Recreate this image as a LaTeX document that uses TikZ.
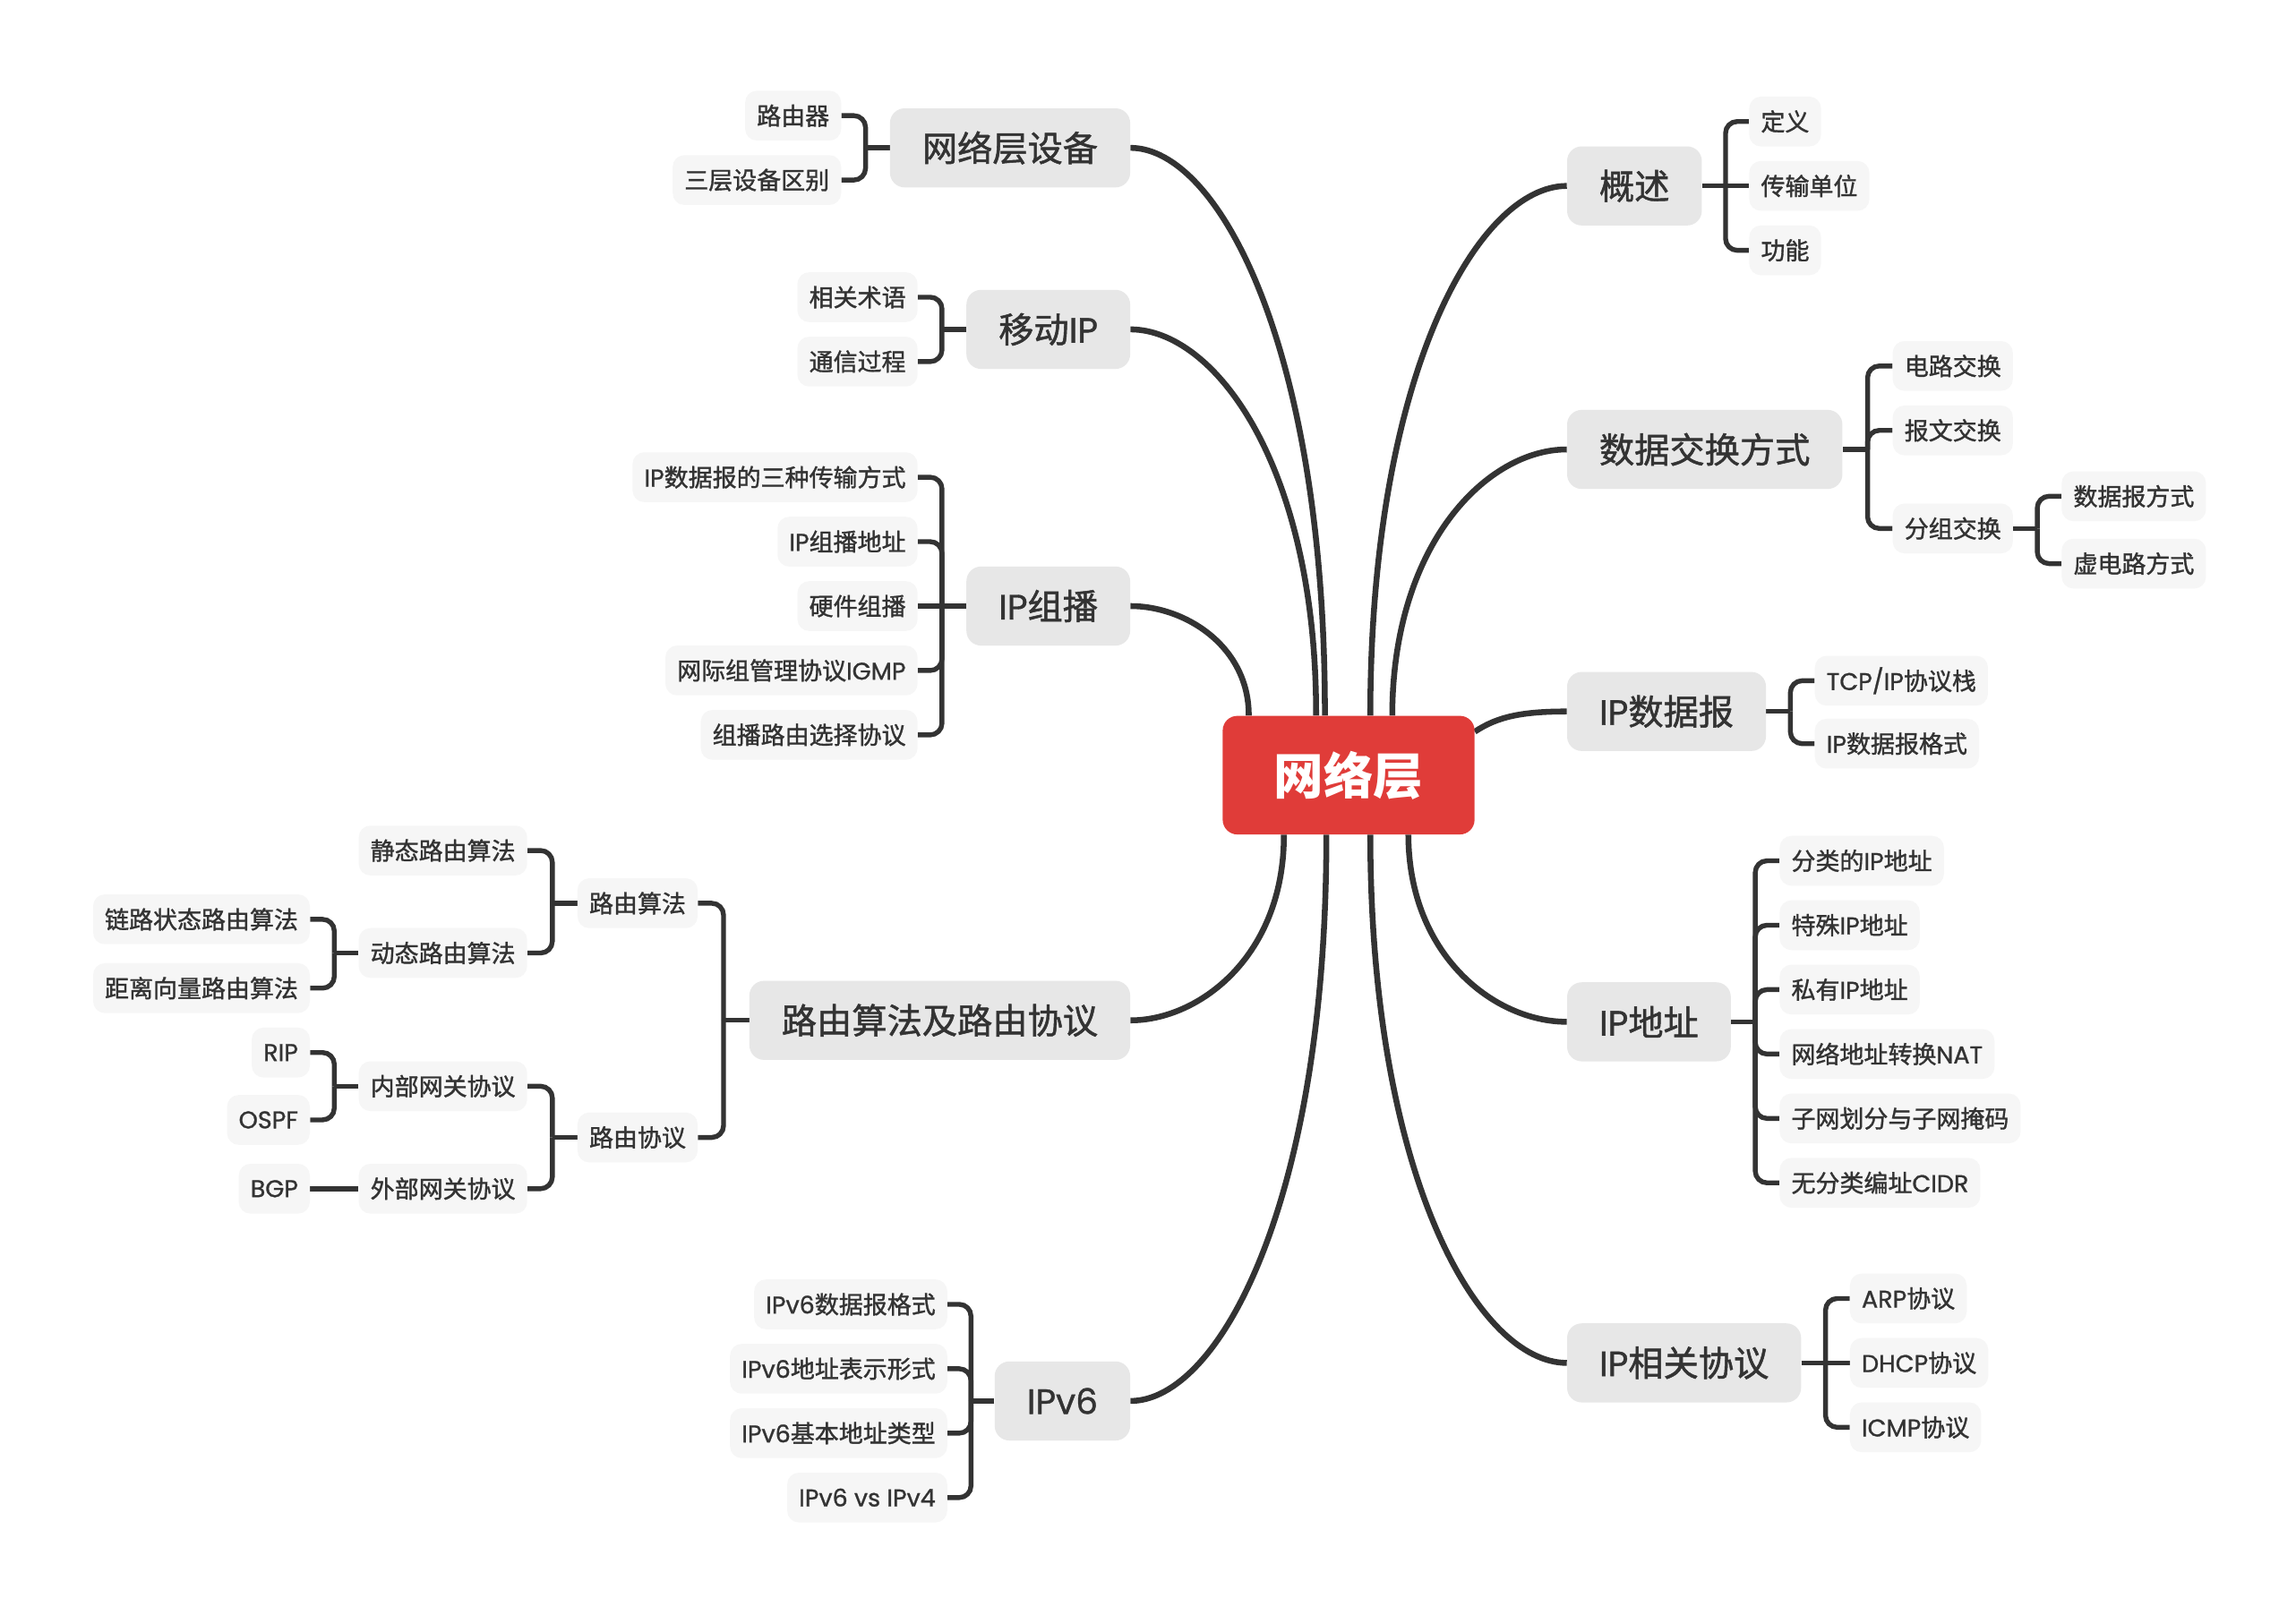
\documentclass[tikz,border=0pt]{standalone}
\usepackage{fontspec}
\setmainfont{Noto Sans CJK SC}
\newfontfamily\medfont{Noto Sans CJK SC}[FakeBold=1.3]
\newfontfamily\latf{Poppins}[FakeBold=1.0]
\newcommand\lat[1]{{\latf #1}}
\usetikzlibrary{calc,backgrounds}
\definecolor{rootc}{HTML}{E03C39}
\definecolor{topc}{HTML}{E7E7E7}
\definecolor{leafc}{HTML}{F6F6F6}
\definecolor{txt}{HTML}{333333}
\definecolor{linec}{HTML}{333333}
\begin{document}
\begin{tikzpicture}[x=1pt,y=-1pt,
  leaf/.style={fill=leafc, rounded corners=8pt, minimum height=34pt, inner xsep=8pt, inner ysep=0pt, text=txt, font=\medfont\fontsize{16.5}{20}\selectfont},
  topic/.style={fill=topc, rounded corners=10pt, minimum height=54pt, inner xsep=22pt, inner ysep=0pt, text=txt, font=\medfont\fontsize{24}{28}\selectfont},
  rootn/.style={fill=rootc, rounded corners=10pt, minimum height=81pt, minimum width=172pt, text=white, font=\fontsize{34}{40}\selectfont\bfseries},
  conn/.style={draw=linec, line width=4pt},
  br/.style={draw=linec, line width=3.3pt, rounded corners=8pt},
  brs/.style={draw=linec, line width=3.3pt}]
\useasboundingbox (0,0) rectangle (1568,1103.2);

\node[rootn] (root) at (921,529.5) {网络层};

% ---------- left main topics
\node[topic,anchor=east] (t1) at (772,101) {网络层设备};
\node[topic,anchor=east] (t2) at (772,225) {移动\lat{IP}};
\node[topic,anchor=east] (t3) at (772,414) {\lat{IP}组播};
\node[topic,anchor=east] (t4) at (772,697) {路由算法及路由协议};
\node[topic,anchor=east] (t5) at (772,957) {\lat{IPv6}};
% ---------- right main topics
\node[topic,anchor=west] (t6) at (1070,127) {概述};
\node[topic,anchor=west] (t7) at (1070,307) {数据交换方式};
\node[topic,anchor=west] (t8) at (1070,486) {\lat{IP}数据报};
\node[topic,anchor=west] (t9) at (1070,698) {\lat{IP}地址};
\node[topic,anchor=west] (t10) at (1070,931) {\lat{IP}相关协议};

% ---------- t1 children
\path (t1.west) ++(-33,0) coordinate (c1);
\node[leaf,anchor=east] (a1) at (c1 |- 0,79) {路由器};
\node[leaf,anchor=east] (a2) at (c1 |- 0,123) {三层设备区别};
% ---------- t2 children
\path (t2.west) ++(-33,0) coordinate (c2);
\node[leaf,anchor=east] (b1) at (c2 |- 0,203) {相关术语};
\node[leaf,anchor=east] (b2) at (c2 |- 0,247) {通信过程};
% ---------- t3 children
\path (t3.west) ++(-33,0) coordinate (c3);
\node[leaf,anchor=east] (d1) at (c3 |- 0,326) {\lat{IP}数据报的三种传输方式};
\node[leaf,anchor=east] (d2) at (c3 |- 0,370) {\lat{IP}组播地址};
\node[leaf,anchor=east] (d3) at (c3 |- 0,414) {硬件组播};
\node[leaf,anchor=east] (d4) at (c3 |- 0,458) {网际组管理协议\lat{IGMP}};
\node[leaf,anchor=east] (d5) at (c3 |- 0,502) {组播路由选择协议};
% ---------- t4 children
\path (t4.west) ++(-35,0) coordinate (c4);
\node[leaf,anchor=east] (e1) at (c4 |- 0,617) {路由算法};
\node[leaf,anchor=east] (e2) at (c4 |- 0,777) {路由协议};
\path (e1.west) ++(-34,0) coordinate (c41);
\node[leaf,anchor=east] (f1) at (c41 |- 0,581) {静态路由算法};
\node[leaf,anchor=east] (f2) at (c41 |- 0,651) {动态路由算法};
\path (f2.west) ++(-33,0) coordinate (c42);
\node[leaf,anchor=east] (g1) at (c42 |- 0,628) {链路状态路由算法};
\node[leaf,anchor=east] (g2) at (c42 |- 0,675) {距离向量路由算法};
\path (e2.west) ++(-34,0) coordinate (c43);
\node[leaf,anchor=east] (h1) at (c43 |- 0,742) {内部网关协议};
\node[leaf,anchor=east] (h2) at (c43 |- 0,812) {外部网关协议};
\path (h1.west) ++(-33,0) coordinate (c44);
\node[leaf,anchor=east] (i1) at (c44 |- 0,719) {\lat{RIP}};
\node[leaf,anchor=east] (i2) at (c44 |- 0,765) {\lat{OSPF}};
\path (h2.west) ++(-33,0) coordinate (c45);
\node[leaf,anchor=east] (i3) at (c45 |- 0,812) {\lat{BGP}};
% ---------- t5 children
\path (t5.west) ++(-32,0) coordinate (c5);
\node[leaf,anchor=east] (j1) at (c5 |- 0,891) {\lat{IPv6}数据报格式};
\node[leaf,anchor=east] (j2) at (c5 |- 0,935) {\lat{IPv6}地址表示形式};
\node[leaf,anchor=east] (j3) at (c5 |- 0,979) {\lat{IPv6}基本地址类型};
\node[leaf,anchor=east] (j4) at (c5 |- 0,1023) {\lat{IPv6 vs IPv4}};

% ---------- t6 children
\path (t6.east) ++(32,0) coordinate (c6);
\node[leaf,anchor=west] (k1) at (c6 |- 0,83) {定义};
\node[leaf,anchor=west] (k2) at (c6 |- 0,127) {传输单位};
\node[leaf,anchor=west] (k3) at (c6 |- 0,171) {功能};
% ---------- t7 children
\path (t7.east) ++(34,0) coordinate (c7);
\node[leaf,anchor=west] (m1) at (c7 |- 0,250) {电路交换};
\node[leaf,anchor=west] (m2) at (c7 |- 0,294) {报文交换};
\node[leaf,anchor=west] (m3) at (c7 |- 0,361) {分组交换};
\path (m3.east) ++(33,0) coordinate (c71);
\node[leaf,anchor=west] (n1) at (c71 |- 0,339) {数据报方式};
\node[leaf,anchor=west] (n2) at (c71 |- 0,385) {虚电路方式};
% ---------- t8 children
\path (t8.east) ++(33,0) coordinate (c8);
\node[leaf,anchor=west] (o1) at (c8 |- 0,465) {\lat{TCP/IP}协议栈};
\node[leaf,anchor=west] (o2) at (c8 |- 0,508) {\lat{IP}数据报格式};
% ---------- t9 children
\path (t9.east) ++(33,0) coordinate (c9);
\node[leaf,anchor=west] (p1) at (c9 |- 0,588) {分类的\lat{IP}地址};
\node[leaf,anchor=west] (p2) at (c9 |- 0,632) {特殊\lat{IP}地址};
\node[leaf,anchor=west] (p3) at (c9 |- 0,676) {私有\lat{IP}地址};
\node[leaf,anchor=west] (p4) at (c9 |- 0,720) {网络地址转换\lat{NAT}};
\node[leaf,anchor=west] (p5) at (c9 |- 0,764) {子网划分与子网掩码};
\node[leaf,anchor=west] (p6) at (c9 |- 0,808) {无分类编址\lat{CIDR}};
% ---------- t10 children
\path (t10.east) ++(33,0) coordinate (c10);
\node[leaf,anchor=west] (q1) at (c10 |- 0,887) {\lat{ARP}协议};
\node[leaf,anchor=west] (q2) at (c10 |- 0,931) {\lat{DHCP}协议};
\node[leaf,anchor=west] (q3) at (c10 |- 0,975) {\lat{ICMP}协议};

% ---------- root anchor points
\coordinate (r1) at ($(root.north west)+(70,0)$);
\coordinate (r2) at ($(root.north west)+(64,0)$);
\coordinate (r3) at ($(root.north west)+(18,0)$);
\coordinate (r4) at ($(root.south west)+(42,0)$);
\coordinate (r5) at ($(root.south west)+(71,0)$);
\coordinate (r6) at ($(root.north west)+(101,0)$);
\coordinate (r7) at ($(root.north west)+(116,0)$);
\coordinate (r8) at ($(root.north east)+(0,11)$);
\coordinate (r9) at ($(root.south west)+(127,0)$);
\coordinate (r10) at ($(root.south west)+(101,0)$);

\begin{scope}[on background layer]
\fill[white] (0,0) rectangle (1568,1103.2);
% main curves
\draw[conn] (t1.east) .. controls (832,101) and (905,237) .. (r1);
\draw[conn] (t2.east) .. controls (829,225) and (899,317) .. (r2);
\draw[conn] (t3.east) .. controls (810,414) and (853,442) .. (r3);
\draw[conn] (t4.east) .. controls (819,697) and (877,653) .. (r4);
\draw[conn] (t5.east) .. controls (832,957) and (906,822) .. (r5);
\draw[conn] (t6.west) .. controls (1010,127) and (936,254) .. (r6);
\draw[conn] (t7.west) .. controls (1016,307) and (951,371) .. (r7);
\draw[conn] (t8.west) .. controls (1038,486) and (1022,490) .. (r8);
\draw[conn] (t9.west) .. controls (1021,698) and (962,653) .. (r9);
\draw[conn] (t10.west) .. controls (1010,931) and (936,805) .. (r10);

% brackets, left side
\draw[brs] (t1.west) -- ++(-16.5,0) coordinate (x1);
\foreach \c in {a1,a2} \draw[br] (\c.east) -| (x1);
\draw[brs] (t2.west) -- ++(-16.5,0) coordinate (x2);
\foreach \c in {b1,b2} \draw[br] (\c.east) -| (x2);
\draw[brs] (t3.west) -- ++(-16.5,0) coordinate (x3);
\foreach \c in {d1,d2,d4,d5} \draw[br] (\c.east) -| (x3);
\draw[brs] (d3.east) -- (t3.west);
\draw[brs] (t4.west) -- ++(-17.5,0) coordinate (x4);
\foreach \c in {e1,e2} \draw[br] (\c.east) -| (x4);
\draw[brs] (e1.west) -- ++(-17,0) coordinate (x41);
\foreach \c in {f1,f2} \draw[br] (\c.east) -| (x41);
\draw[brs] (f2.west) -- ++(-16.5,0) coordinate (x42);
\foreach \c in {g1,g2} \draw[br] (\c.east) -| (x42);
\draw[brs] (e2.west) -- ++(-17,0) coordinate (x43);
\foreach \c in {h1,h2} \draw[br] (\c.east) -| (x43);
\draw[brs] (h1.west) -- ++(-16.5,0) coordinate (x44);
\foreach \c in {i1,i2} \draw[br] (\c.east) -| (x44);
\draw[brs] (i3.east) -- (h2.west);
\draw[brs] (t5.west) -- ++(-16,0) coordinate (x5);
\foreach \c in {j1,j2,j3,j4} \draw[br] (\c.east) -| (x5);

% brackets, right side
\draw[brs] (t6.east) -- ++(16,0) coordinate (x6);
\foreach \c in {k1,k3} \draw[br] (\c.west) -| (x6);
\draw[brs] (t6.east) -- (k2.west);
\draw[brs] (t7.east) -- ++(17,0) coordinate (x7);
\foreach \c in {m1,m2,m3} \draw[br] (\c.west) -| (x7);
\draw[brs] (m3.east) -- ++(16.5,0) coordinate (x71);
\foreach \c in {n1,n2} \draw[br] (\c.west) -| (x71);
\draw[brs] (t8.east) -- ++(16.5,0) coordinate (x8);
\foreach \c in {o1,o2} \draw[br] (\c.west) -| (x8);
\draw[brs] (t9.east) -- ++(16.5,0) coordinate (x9);
\foreach \c in {p1,p2,p3,p4,p5,p6} \draw[br] (\c.west) -| (x9);
\draw[brs] (t10.east) -- ++(16.5,0) coordinate (x10);
\foreach \c in {q1,q3} \draw[br] (\c.west) -| (x10);
\draw[brs] (t10.east) -- (q2.west);
\end{scope}
\end{tikzpicture}
\end{document}
